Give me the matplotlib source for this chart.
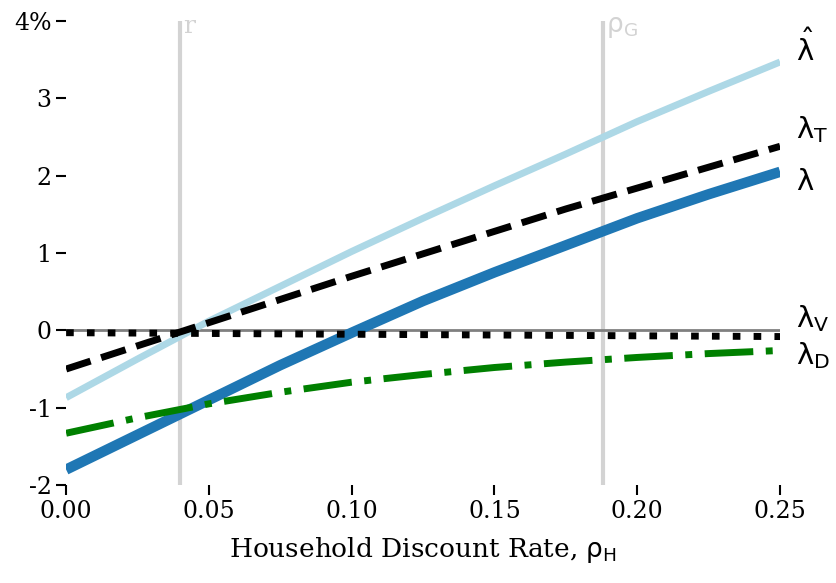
import numpy as np
import matplotlib
matplotlib.use("Agg")
import matplotlib.pyplot as plt

plt.rcParams['font.family'] = ['DejaVu Serif']
plt.rcParams['mathtext.fontset'] = 'dejavusans'

# household discount rate grid
rho_h = [0.0, 0.025, 0.05, 0.075, 0.10, 0.125, 0.15, 0.175, 0.20, 0.225, 0.25]

# percent values
lam_hat = [-0.87, -0.37, 0.12, 0.57, 1.02, 1.45, 1.87, 2.28, 2.70, 3.09, 3.47]
lam_T = [-0.50, -0.20, 0.10, 0.40, 0.70, 0.99, 1.28, 1.57, 1.84, 2.11, 2.38]
lam = [-1.80, -1.35, -0.90, -0.45, -0.03, 0.38, 0.75, 1.10, 1.45, 1.76, 2.05]
lam_V = [-0.03, -0.035, -0.04, -0.045, -0.05, -0.055, -0.06, -0.065, -0.07, -0.075, -0.08]
lam_D = [-1.33, -1.13, -0.95, -0.80, -0.67, -0.57, -0.48, -0.41, -0.35, -0.30, -0.26]

r = 0.04
rho_g = 0.188

xticks = [0.00, 0.05, 0.10, 0.15, 0.20, 0.25]
yticks = [-2, -1, 0, 1, 2, 3, 4]
ylabels = ['-2', '-1', '0', '1', '2', '3', '4%']

fig = plt.figure(figsize=(8.37, 5.83), dpi=100)
ax = fig.add_axes([0.079, 0.168, 0.853, 0.796])

ax.axvline(r, color='#d3d3d3', lw=3, zorder=1)
ax.axvline(rho_g, color='#d3d3d3', lw=3, zorder=1)
ax.axhline(0, color='gray', lw=2, zorder=1)

ax.plot(rho_h, lam_hat, color='lightblue', lw=5, solid_capstyle='butt', zorder=3)
ax.plot(rho_h, lam_T, color='black', lw=5, dashes=(3.7, 1.6), zorder=4)
ax.plot(rho_h, lam, color='#1f77b4', lw=7.5, solid_capstyle='butt', zorder=3)
ax.plot(rho_h, lam_V, color='black', lw=5, dashes=(1.1, 1.9), zorder=4)
ax.plot(rho_h, lam_D, color='green', lw=5, dashes=(7, 1.8, 1, 1.8), zorder=4)

fs = 21
ax.text(0.2555, 3.65, r'$\hat{\mathrm{\lambda}}$', fontsize=fs, va='center')
ax.text(0.2555, 2.6, r'$\mathrm{\lambda_T}$', fontsize=fs, va='center')
ax.text(0.2555, 1.92, r'$\mathrm{\lambda}$', fontsize=fs, va='center')
ax.text(0.2555, 0.15, r'$\mathrm{\lambda_V}$', fontsize=fs, va='center')
ax.text(0.2555, -0.33, r'$\mathrm{\lambda_D}$', fontsize=fs, va='center')

ax.text(r + 0.001, 4.08, 'r', color='#d3d3d3', fontsize=18, va='top')
ax.text(rho_g + 0.001, 4.08, r'$\mathrm{\rho_G}$', color='#d3d3d3', fontsize=19, va='top')

ax.set_xlim(0, 0.25)
ax.set_ylim(-2, 4)
ax.set_xticks(xticks)
ax.set_xticklabels(['%.2f' % t for t in xticks])
ax.set_yticks(yticks)
ax.set_yticklabels(ylabels)
for s in ax.spines.values():
    s.set_visible(False)
ax.tick_params(labelsize=17, length=7, width=1.5, direction='out')
ax.set_xlabel(r'Household Discount Rate, $\mathrm{\rho_H}$', fontsize=19, labelpad=9)

fig.savefig('out.png', dpi=100)
